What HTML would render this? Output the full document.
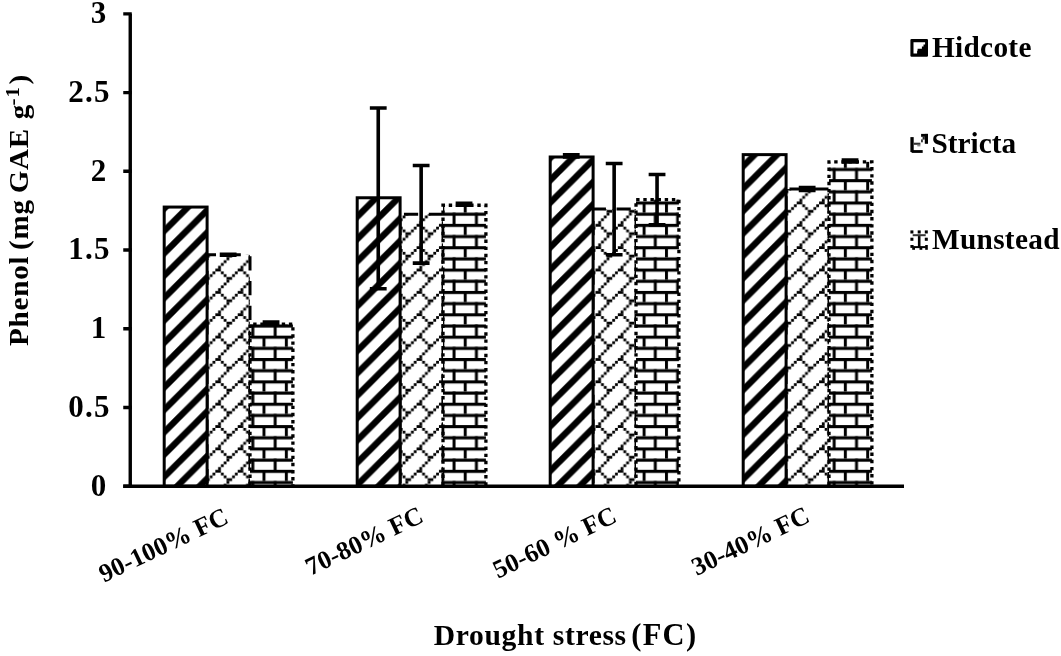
<!DOCTYPE html>
<html lang="en"><head><meta charset="utf-8"><title>Phenol chart</title>
<style>html,body{margin:0;padding:0;background:#fff}svg{display:block;filter:blur(0.45px)}text{font-family:"Liberation Serif",serif;fill:#000}.b{font-weight:bold}</style></head><body>
<svg width="1061" height="656" viewBox="0 0 1061 656">
<defs>
<pattern id="pd" width="22.360" height="22.360" patternUnits="userSpaceOnUse"><rect width="22.360" height="22.360" fill="#fff"/><path d="M-22.36 15.00L44.72 -52.08M-22.36 37.36L44.72 -29.72M-22.36 59.72L44.72 -7.36M-22.36 82.08L44.72 15.00" stroke="#000" stroke-width="6.36" fill="none"/></pattern>
<pattern id="ps" width="8" height="8" patternUnits="userSpaceOnUse" patternTransform="translate(14.10 3.10) scale(2.795)"><rect width="8" height="8" fill="#fff"/><rect x="2" y="0" width="1" height="1"/><rect x="7" y="0" width="1" height="1"/><rect x="3" y="1" width="1" height="1"/><rect x="6" y="1" width="1" height="1"/><rect x="4" y="2" width="2" height="1"/><rect x="4" y="3" width="1" height="1"/><rect x="3" y="4" width="1" height="1"/><rect x="2" y="5" width="1" height="1"/><rect x="1" y="6" width="1" height="1"/><rect x="0" y="7" width="2" height="1"/></pattern>
<pattern id="pb" width="22.360" height="22.360" patternUnits="userSpaceOnUse" patternTransform="translate(0 0.25)"><rect width="22.360" height="22.360" fill="#fff"/><rect x="0" y="0" width="22.360" height="3.10"/><rect x="0" y="11.180" width="22.360" height="3.10"/><rect x="16.55" y="0" width="2.95" height="11.180"/><rect x="5.38" y="11.180" width="2.95" height="11.180"/></pattern>
</defs>
<rect width="1061" height="656" fill="#fff"/>
<g fill="none" stroke="#000">
<rect x="207.10" y="254.77" width="42.90" height="231.48" fill="url(#ps)" stroke="none"/>
<path d="M207.10 486.25V254.77H250.00V486.25" stroke-width="3.0" stroke-dasharray="14.2 10.6" stroke-dashoffset="-3.0"/>
<rect x="250.00" y="324.06" width="42.90" height="162.19" fill="url(#pb)" stroke="none"/>
<path d="M250.00 486.25V324.06H292.90V486.25" stroke-width="3.3" stroke-dasharray="3.4 3.74" stroke-dashoffset="-1.15"/>
<rect x="164.20" y="207.06" width="42.90" height="279.19" fill="url(#pd)" stroke-width="3.0"/>
<path d="M228.15 254.30V255.25M219.75 254.30H236.55M219.75 255.25H236.55" stroke-width="3.6"/>
<path d="M271.05 322.17V324.06M262.65 322.17H279.45M262.65 324.06H279.45" stroke-width="3.6"/>
<rect x="400.10" y="214.31" width="42.90" height="271.94" fill="url(#ps)" stroke="none"/>
<path d="M400.10 486.25V214.31H443.00V486.25" stroke-width="3.0" stroke-dasharray="14.2 10.6" stroke-dashoffset="-3.0"/>
<rect x="443.00" y="205.25" width="42.90" height="281.00" fill="url(#pb)" stroke="none"/>
<path d="M443.00 486.25V205.25H485.90V486.25" stroke-width="3.3" stroke-dasharray="3.4 3.74" stroke-dashoffset="-1.15"/>
<rect x="357.20" y="197.77" width="42.90" height="288.48" fill="url(#pd)" stroke-width="3.0"/>
<path d="M378.25 108.02V288.79M369.85 108.02H386.65M369.85 288.79H386.65" stroke-width="3.6"/>
<path d="M421.15 165.49V263.12M412.75 165.49H429.55M412.75 263.12H429.55" stroke-width="3.6"/>
<path d="M464.05 203.36V205.25M455.65 203.36H472.45M455.65 205.25H472.45" stroke-width="3.6"/>
<rect x="593.10" y="209.11" width="42.90" height="277.14" fill="url(#ps)" stroke="none"/>
<path d="M593.10 486.25V209.11H636.00V486.25" stroke-width="3.0" stroke-dasharray="14.2 10.6" stroke-dashoffset="-3.0"/>
<rect x="636.00" y="199.66" width="42.90" height="286.59" fill="url(#pb)" stroke="none"/>
<path d="M636.00 486.25V199.66H678.90V486.25" stroke-width="3.3" stroke-dasharray="3.4 3.74" stroke-dashoffset="-1.15"/>
<rect x="550.20" y="156.99" width="42.90" height="329.26" fill="url(#pd)" stroke-width="3.0"/>
<path d="M571.25 154.78V156.99M562.85 154.78H579.65M562.85 156.99H579.65" stroke-width="3.6"/>
<path d="M614.15 163.44V254.77M605.75 163.44H622.55M605.75 254.77H622.55" stroke-width="3.6"/>
<path d="M657.05 174.47V224.86M648.65 174.47H665.45M648.65 224.86H665.45" stroke-width="3.6"/>
<rect x="786.10" y="189.02" width="42.90" height="297.23" fill="url(#ps)" stroke="none"/>
<path d="M786.10 486.25V189.02H829.00V486.25" stroke-width="3.0" stroke-dasharray="14.2 10.6" stroke-dashoffset="-3.0"/>
<rect x="829.00" y="161.87" width="42.90" height="324.38" fill="url(#pb)" stroke="none"/>
<path d="M829.00 486.25V161.87H871.90V486.25" stroke-width="3.3" stroke-dasharray="3.4 3.74" stroke-dashoffset="-1.15"/>
<rect x="743.20" y="154.63" width="42.90" height="331.62" fill="url(#pd)" stroke-width="3.0"/>
<path d="M807.15 187.60V190.43M798.75 187.60H815.55M798.75 190.43H815.55" stroke-width="3.6"/>
<path d="M850.05 159.98V161.87M841.65 159.98H858.45M841.65 161.87H858.45" stroke-width="3.6"/>
<path d="M130.25 13.85V487.95M123.25 486.25H904" stroke-width="3.4"/>
<path d="M123.25 486.25H131.75M123.25 407.52H131.75M123.25 328.78H131.75M123.25 250.05H131.75M123.25 171.32H131.75M123.25 92.58H131.75M123.25 13.85H131.75" stroke-width="3.4"/>
</g>
<text class="b" x="106.3" y="495.55" font-size="31" text-anchor="end">0</text>
<text class="b" x="110.6" y="416.82" font-size="31" text-anchor="end" letter-spacing="1.2">0.5</text>
<text class="b" x="106.3" y="338.08" font-size="31" text-anchor="end">1</text>
<text class="b" x="110.6" y="259.35" font-size="31" text-anchor="end" letter-spacing="1.2">1.5</text>
<text class="b" x="106.3" y="180.62" font-size="31" text-anchor="end">2</text>
<text class="b" x="110.6" y="101.88" font-size="31" text-anchor="end" letter-spacing="1.2">2.5</text>
<text class="b" x="106.3" y="23.15" font-size="31" text-anchor="end">3</text>
<text class="b" transform="translate(27.6 346) rotate(-90) scale(1.1 1)" font-size="26.4" letter-spacing="0.73">Phenol <tspan dx="-2.1">(mg </tspan><tspan dx="-2.1">GAE </tspan><tspan dx="0.6">g</tspan><tspan font-size="19" dx="-1.3" dy="-8.5">-1</tspan><tspan dy="8.5" dx="1.8">)</tspan></text>
<text class="b" x="433.8" y="645" font-size="29.6" letter-spacing="0.65">Drought stress<tspan dx="-4.5" font-size="30.5" letter-spacing="1.3"> (FC)</tspan></text>
<text class="b" transform="translate(230.0 522.5) rotate(-25.5)" font-size="25.8" text-anchor="end">90-100% FC</text>
<text class="b" transform="translate(425.0 521.3) rotate(-25.5)" font-size="25.8" text-anchor="end">70-80% FC</text>
<text class="b" transform="translate(618.3 521.3) rotate(-25.5)" font-size="25.8" text-anchor="end">50-60 % FC</text>
<text class="b" transform="translate(811.3 521.3) rotate(-25.5)" font-size="25.8" text-anchor="end">30-40% FC</text>
<g fill="#000">
<rect x="910.4" y="38.9" width="17.6" height="17.8" rx="1.2"/>
<polygon fill="#fff" points="913.5,42.2 925.1,42.2 925.1,44.4 923.5,44.4 923.5,46.5 921.9,46.5 921.9,48.7 917.6,48.7 917.6,50.8 917.1,50.8 917.1,53.5 913.5,53.5"/>
<rect x="910.4" y="137.1" width="3.3" height="14.9"/>
<rect x="911.6" y="150.1" width="11.1" height="2.8"/>
<rect x="921.1" y="133.9" width="6.9" height="2.9"/>
<rect x="924.8" y="133.9" width="3.2" height="9.9"/>
<rect x="913.7" y="142.7" width="6.7" height="2.1" fill="#333"/>
<rect x="917.3" y="144.8" width="3.1" height="1.6" fill="#888"/>
<rect x="921.1" y="139.4" width="1.7" height="2.9" fill="#222"/>
<rect x="922.6" y="136.8" width="2.2" height="2.8" fill="#222"/>
<rect x="910.4" y="230.4" width="3.0" height="3.1"/>
<rect x="917.7" y="230.4" width="3.0" height="3.1"/>
<rect x="924.8" y="230.4" width="3.0" height="3.1"/>
<rect x="912.7" y="234.2" width="13.0" height="2.0" fill="#333"/>
<rect x="910.4" y="237.7" width="3.0" height="3.1"/>
<rect x="924.8" y="237.7" width="3.0" height="3.1"/>
<rect x="917.9" y="236.1" width="2.6" height="10.9"/>
<rect x="913.1" y="246.1" width="12.8" height="2.0"/>
<rect x="910.4" y="245.0" width="3.2" height="2.9"/>
<rect x="912.2" y="247.3" width="2.8" height="2.5"/>
<rect x="919.5" y="247.3" width="2.8" height="2.5"/>
<rect x="925.2" y="245.0" width="2.6" height="4.8"/>
</g>
<text class="b" x="932" y="56.5" font-size="29.3" letter-spacing="0.3">Hidcote</text>
<text class="b" x="931.5" y="153.3" font-size="29.3">Stricta</text>
<text class="b" x="932" y="249.2" font-size="29.3" letter-spacing="0.3">Munstead</text>
</svg></body></html>
